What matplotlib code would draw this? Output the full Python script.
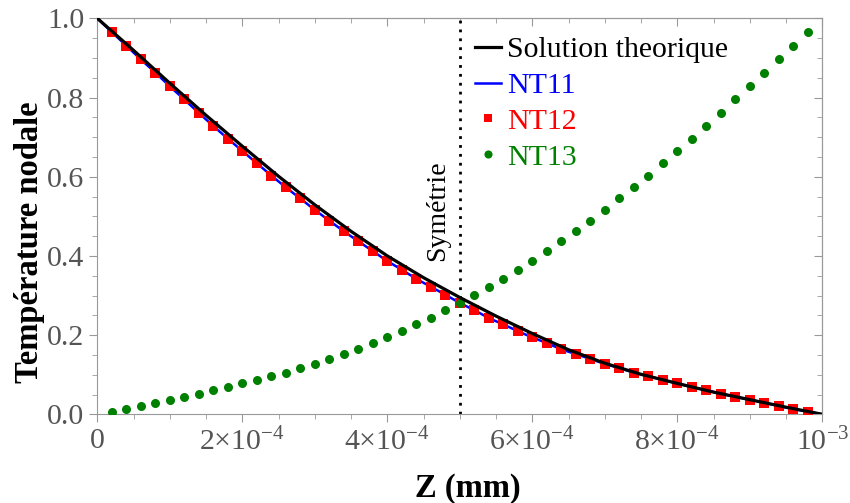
import numpy as np
import matplotlib.pyplot as plt
from matplotlib.ticker import MultipleLocator

plt.rcParams['font.family'] = ['Liberation Serif', 'DejaVu Serif']
plt.rcParams['mathtext.fontset'] = 'custom'
plt.rcParams['mathtext.rm'] = 'Liberation Serif'
plt.rcParams['mathtext.it'] = 'Liberation Serif:italic'
plt.rcParams['mathtext.bf'] = 'Liberation Serif:bold'

# nodal positions (m), 49 interior nodes
z_nodes = np.arange(1, 50) * 2e-5

# NT12 values
nt12 = [0.965, 0.931, 0.896, 0.863, 0.828, 0.795, 0.761, 0.728, 0.696, 0.665,
        0.634, 0.603, 0.573, 0.545, 0.516, 0.489, 0.462, 0.437, 0.412, 0.387,
        0.365, 0.342, 0.322, 0.302, 0.281, 0.263, 0.243, 0.227, 0.210, 0.194,
        0.180, 0.164, 0.152, 0.140, 0.127, 0.117, 0.105, 0.096, 0.087, 0.078,
        0.069, 0.061, 0.052, 0.044, 0.037, 0.029, 0.021, 0.013, 0.007]

# NT13 values
nt13 = [0.007, 0.013, 0.021, 0.029, 0.037, 0.044, 0.052, 0.061, 0.069, 0.078,
        0.087, 0.096, 0.105, 0.117, 0.127, 0.140, 0.152, 0.164, 0.180, 0.194,
        0.210, 0.227, 0.243, 0.263, 0.281, 0.302, 0.322, 0.342, 0.365, 0.387,
        0.412, 0.437, 0.462, 0.489, 0.516, 0.545, 0.573, 0.603, 0.634, 0.665,
        0.696, 0.728, 0.761, 0.795, 0.828, 0.863, 0.896, 0.931, 0.965]

# NT11 line, same nodes plus both ends
z_nt11 = np.arange(0, 51) * 2e-5
nt11 = [1.0] + nt12 + [0.0]

# theoretical solution
z_th = np.arange(0, 21) * 5e-5
t_th = [1.0, 0.919, 0.836, 0.755, 0.677, 0.601, 0.529, 0.462, 0.400, 0.345,
        0.295, 0.248, 0.204, 0.163, 0.129, 0.101, 0.078, 0.056, 0.037, 0.018, 0.0]

xtick_vals = [0, 2e-4, 4e-4, 6e-4, 8e-4, 1e-3]
xtick_labels = ['0', r'$2{\times}10^{-4}$', r'$4{\times}10^{-4}$',
                r'$6{\times}10^{-4}$', r'$8{\times}10^{-4}$', r'$10^{-3}$']
ytick_vals = [0.0, 0.2, 0.4, 0.6, 0.8, 1.0]
ytick_labels = ['0.0', '0.2', '0.4', '0.6', '0.8', '1.0']

fig = plt.figure(figsize=(8.5, 5.03), dpi=100)
ax = fig.add_axes([0.1145, 0.1763, 0.853, 0.7873])

ax.plot(z_th, t_th, color='black', lw=2.3, label='Solution theorique', zorder=5)
ax.plot(z_nt11, nt11, color='blue', lw=1.8, label='NT11', zorder=3)
ax.plot(z_nodes, nt12, 's', color='red', ms=6.5, mew=0, label='NT12', zorder=4)
ax.plot(z_nodes, nt13, 'o', color='green', ms=6.5, mew=0, label='NT13', zorder=4)

ax.axvline(5e-4, color='black', lw=2, linestyle=(0, (1, 2.2)), zorder=2)
ax.text(4.69e-4, 0.513, 'Symétrie', rotation=90, ha='center', va='center',
        fontsize=20)

ax.set_xlim(0, 1e-3)
ax.set_ylim(0, 1)
ax.set_xticks(xtick_vals)
ax.set_xticklabels(xtick_labels)
ax.set_yticks(ytick_vals)
ax.set_yticklabels(ytick_labels)
ax.xaxis.set_minor_locator(MultipleLocator(5e-5))
ax.yaxis.set_minor_locator(MultipleLocator(0.05))

grey = '#999999'
for sp in ax.spines.values():
    sp.set_color(grey)
ax.tick_params(which='both', direction='out', color=grey, labelcolor='#555555',
               labelsize=21.5)
ax.tick_params(which='major', length=6)
ax.tick_params(which='minor', length=3.5)
ax.tick_params(axis='x', pad=4)

# inward ticks on top and right, as in the frame
top = ax.secondary_xaxis('top')
top.set_xticks(xtick_vals)
top.xaxis.set_minor_locator(MultipleLocator(5e-5))
top.tick_params(which='both', direction='in', color=grey, labeltop=False)
top.tick_params(which='major', length=6)
top.tick_params(which='minor', length=3.5)
top.spines['top'].set_color(grey)
right = ax.secondary_yaxis('right')
right.set_yticks(ytick_vals)
right.yaxis.set_minor_locator(MultipleLocator(0.05))
right.tick_params(which='both', direction='in', color=grey, labelright=False)
right.tick_params(which='major', length=6)
right.tick_params(which='minor', length=3.5)
right.spines['right'].set_color(grey)

ax.set_xlabel('Z (mm)', fontsize=23.5, fontweight='bold')
ax.set_ylabel('Température nodale', fontsize=23.5, fontweight='bold')
ax.xaxis.set_label_coords(0.511, -0.187)
ax.yaxis.set_label_coords(-0.093, 0.435)
ax.xaxis.label.set_va('center')
ax.yaxis.label.set_va('center')

leg = ax.legend(loc='upper left', bbox_to_anchor=(0.505, 0.985), frameon=False,
                fontsize=21.5, handlelength=0.85, handletextpad=0.2,
                labelspacing=0.3, borderaxespad=0, markerscale=0.9)
for txt, c in zip(leg.get_texts(), ['black', 'blue', 'red', 'green']):
    txt.set_color(c)

fig.savefig('out.png', dpi=100)
